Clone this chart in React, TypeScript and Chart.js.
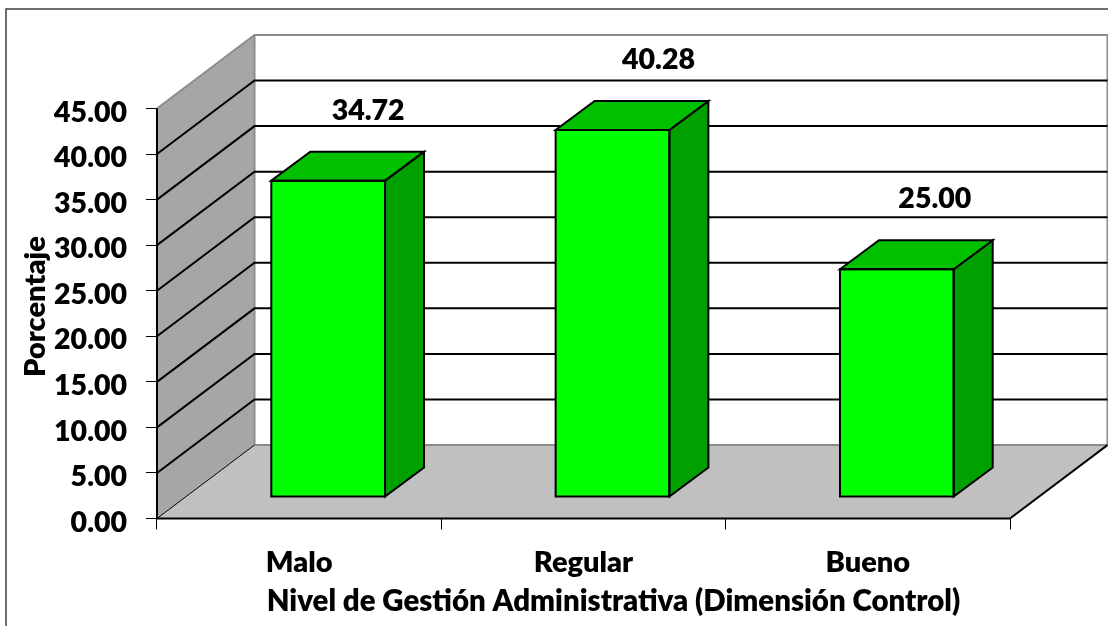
import React, { useEffect, useRef } from "react";
import { Chart, registerables } from "chart.js";

Chart.register(...registerables);

const categories = ["Malo", "Regular", "Bueno"];
const values = [34.72, 40.28, 25.0];
const labelNudges = [40, 46, 38];
const yTitle = "Porcentaje";
const xTitle = "Nivel de Gestión Administrativa (Dimensión Control)";

const FONT = "Lato, Carlito, sans-serif";
const WEIGHT = "800";
const WALL_DX = 97.5;
const WALL_DY = -73.5;
const BAR_DX = 29;
const BAR_DY = -21.5;
const SIDE_DX = 39;
const SIDE_DY = -29;

function poly(ctx: CanvasRenderingContext2D, pts: number[][], fill: string | null, stroke: string | null, w = 1) {
  ctx.beginPath();
  pts.forEach((p, i) => (i ? ctx.lineTo(p[0], p[1]) : ctx.moveTo(p[0], p[1])));
  if (fill) {
    ctx.closePath();
    ctx.fillStyle = fill;
    ctx.fill();
  }
  if (stroke) {
    ctx.strokeStyle = stroke;
    ctx.lineWidth = w;
    ctx.stroke();
  }
}

function nudgeLabels(scale: any, dy: number) {
  const items = scale.getLabelItems();
  if (items.__nudged) return;
  items.__nudged = true;
  items.forEach((it: any) => {
    it.textOffset += dy;
  });
}

function shiftTitle(scale: any, ctx: CanvasRenderingContext2D, dx: number, dy: number) {
  if (scale.__shifted) return;
  scale.__shifted = true;
  const draw = scale.drawTitle.bind(scale);
  scale.drawTitle = () => {
    ctx.save();
    ctx.translate(dx, dy);
    draw();
    ctx.restore();
  };
}

const scene3d = {
  id: "scene3d",
  beforeDraw(chart: any) {
    const ctx = chart.ctx as CanvasRenderingContext2D;
    nudgeLabels(chart.scales.y, 4);
    nudgeLabels(chart.scales.x, 2);
    shiftTitle(chart.scales.x, ctx, 30, 0);
    shiftTitle(chart.scales.y, ctx, 0, -7);
    ctx.save();
    poly(ctx, [[6, 626], [6, 9], [1108, 9]], null, "#404040", 1.5);
    ctx.restore();
  },
  beforeDatasetsDraw(chart: any) {
    const ctx = chart.ctx as CanvasRenderingContext2D;
    const { left, right, top, bottom } = chart.chartArea;
    const y = chart.scales.y;
    const bx = left + WALL_DX;
    const rx = right + WALL_DX;
    ctx.save();
    poly(ctx, [[bx, top + WALL_DY], [rx, top + WALL_DY], [rx, bottom + WALL_DY], [bx, bottom + WALL_DY]], "#ffffff", null);
    poly(ctx, [[left, top], [bx, top + WALL_DY], [bx, bottom + WALL_DY], [left, bottom]], "#a6a6a6", null);
    poly(ctx, [[left, bottom], [bx, bottom + WALL_DY], [rx, bottom + WALL_DY], [right, bottom]], "#c0c0c0", null);
    poly(ctx, [[left, top], [bx, top + WALL_DY], [rx, top + WALL_DY], [rx, bottom + WALL_DY]], null, "#8c8c8c", 2);
    poly(ctx, [[bx, top + WALL_DY], [bx, bottom + WALL_DY], [rx, bottom + WALL_DY]], null, "#8c8c8c", 2);
    y.ticks.forEach((t: any) => {
      if (t.value === 0 || t.value === y.max) return;
      const py = y.getPixelForValue(t.value);
      poly(ctx, [[left, py], [bx, py + WALL_DY], [rx, py + WALL_DY]], null, "#000000", 2);
    });
    poly(ctx, [[left, bottom], [bx, bottom + WALL_DY]], null, "#000000", 1);
    poly(ctx, [[right, bottom], [rx, bottom + WALL_DY]], null, "#000000", 2);
    poly(ctx, [[left, top], [left, bottom], [right, bottom]], null, "#000000", 2);
    ctx.restore();
  },
  beforeDatasetDraw(chart: any) {
    chart.ctx.save();
    chart.ctx.translate(BAR_DX, BAR_DY);
  },
  afterDatasetDraw(chart: any, args: any) {
    const ctx = chart.ctx as CanvasRenderingContext2D;
    const meta = chart.getDatasetMeta(args.index);
    meta.data.forEach((bar: any) => {
      const hw = bar.width / 2;
      const l = bar.x - hw;
      const r = bar.x + hw;
      const t = bar.y;
      const b = bar.base;
      poly(ctx, [[r, t], [r + SIDE_DX, t + SIDE_DY], [r + SIDE_DX, b + SIDE_DY], [r, b]], "#00a000", "#000000", 2);
      poly(ctx, [[l, t], [l + SIDE_DX, t + SIDE_DY], [r + SIDE_DX, t + SIDE_DY], [r, t]], "#00c000", "#000000", 2);
      poly(ctx, [[l, t], [r, t], [r, b], [l, b]], null, null);
      ctx.closePath();
      ctx.strokeStyle = "#000000";
      ctx.lineWidth = 2;
      ctx.stroke();
    });
    ctx.restore();
    ctx.save();
    ctx.font = `${WEIGHT} 28.5px ${FONT}`;
    ctx.fillStyle = "#000000";
    ctx.textAlign = "center";
    ctx.textBaseline = "middle";
    meta.data.forEach((bar: any, i: number) => {
      ctx.fillText(values[i].toFixed(2), bar.x + BAR_DX + labelNudges[i], bar.y + BAR_DY - 70);
    });
    ctx.restore();
  },
};

export default function App() {
  const ref = useRef<HTMLCanvasElement>(null);
  useEffect(() => {
    const chart = new Chart(ref.current as HTMLCanvasElement, {
      type: "bar",
      data: {
        labels: categories,
        datasets: [
          {
            data: values,
            backgroundColor: "#00ff00",
            borderWidth: 0,
            categoryPercentage: 1,
            barPercentage: 0.4,
            clip: false,
          } as any,
        ],
      },
      options: {
        animation: false,
        responsive: false,
        devicePixelRatio: 1,
        layout: { padding: { top: 108.5, right: 98, left: 0, bottom: 0 } },
        plugins: { legend: { display: false }, tooltip: { enabled: false }, title: { display: false } },
        scales: {
          x: {
            border: { display: false },
            grid: { drawOnChartArea: false, drawTicks: true, tickLength: 11, color: "#000000", lineWidth: 1 },
            ticks: { color: "#000000", padding: 14, maxRotation: 0, font: { family: FONT, size: 29, weight: WEIGHT } },
            title: { display: true, text: xTitle, color: "#000000", padding: { top: 0, bottom: 7 }, font: { family: FONT, size: 29.4, weight: WEIGHT } },
            afterFit(s: any) {
              s.height = 107.5;
            },
          },
          y: {
            min: 0,
            max: 45,
            border: { display: false },
            grid: { drawOnChartArea: false, drawTicks: true, tickLength: 11, color: "#000000", lineWidth: 1 },
            ticks: { stepSize: 5, color: "#000000", padding: 19, font: { family: FONT, size: 28.5, weight: WEIGHT }, callback: (v: any) => Number(v).toFixed(2) },
            title: { display: true, text: yTitle, color: "#000000", padding: { top: 18, bottom: 0 }, font: { family: FONT, size: 29, weight: WEIGHT } },
            afterFit(s: any) {
              s.width = 157;
            },
          },
        },
      },
      plugins: [scene3d],
    } as any);
    return () => chart.destroy();
  }, []);
  return (
    <div style={{ position: "absolute", left: 0, top: 0, width: 1108, height: 626, background: "#ffffff", overflow: "hidden" }}>
      <canvas ref={ref} width={1108} height={626} style={{ display: "block" }} />
    </div>
  );
}
